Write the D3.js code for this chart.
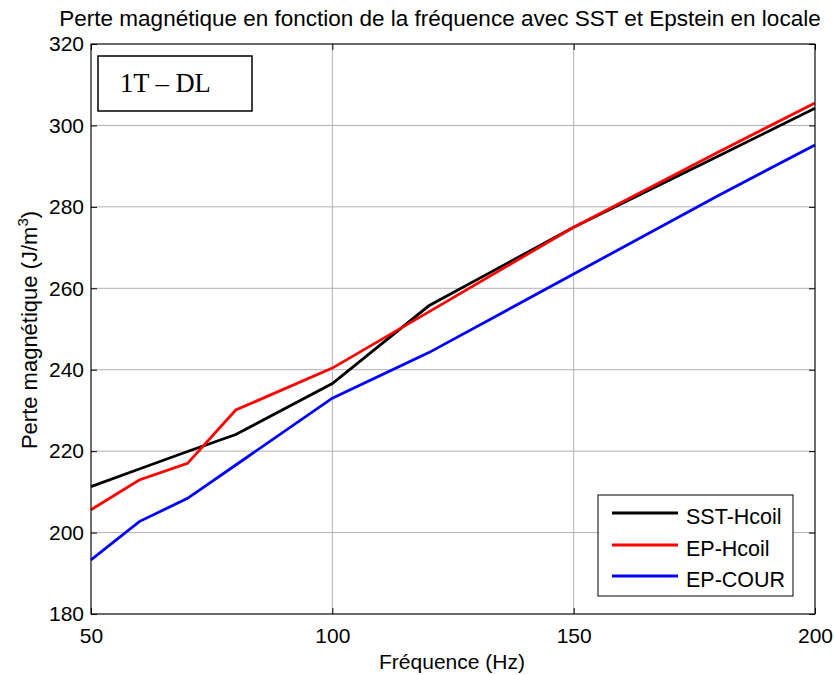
<!DOCTYPE html>
<html>
<head>
<meta charset="utf-8">
<script src="https://cdn.jsdelivr.net/npm/d3@7"></script>
<style>
body{margin:0;background:#fff;}
svg{display:block;font-family:"Liberation Sans",Arial,sans-serif;}
</style>
</head>
<body>
<svg id="c" width="834" height="675"></svg>
<script>
const freq = [50, 60, 70, 80, 100, 120, 150, 180, 200];
const sstHcoil = [211.3, 215.6, 219.9, 224.1, 236.6, 255.7, 275.0, 292.5, 304.2];
const epHcoil  = [205.6, 212.9, 217.0, 230.1, 240.4, 254.2, 275.0, 293.5, 305.5];
const epCour   = [193.3, 202.7, 208.4, 216.6, 233.0, 244.2, 263.5, 282.8, 295.2];
const seriesNames = ["SST-Hcoil", "EP-Hcoil", "EP-COUR"];
const seriesColors = ["#000000", "#ff0000", "#0000ff"];
const xTicks = [50, 100, 150, 200];
const yTicks = [180, 200, 220, 240, 260, 280, 300, 320];

const svg = d3.select("#c");
const L = 91, R = 815, T = 44, B = 614;
const x = d3.scaleLinear().domain([50, 200]).range([L, R]);
const y = d3.scaleLinear().domain([180, 320]).range([B, T]);

// grid
const g = svg.append("g");
g.selectAll(".vg").data(xTicks).enter().append("line")
  .attr("x1", d => x(d)).attr("x2", d => x(d)).attr("y1", T).attr("y2", B)
  .attr("stroke", "#b0b0b0").attr("stroke-width", 1);
g.selectAll(".hg").data(yTicks).enter().append("line")
  .attr("x1", L).attr("x2", R).attr("y1", d => y(d)).attr("y2", d => y(d))
  .attr("stroke", "#b0b0b0").attr("stroke-width", 1);

// lines
const data = [sstHcoil, epHcoil, epCour];
const line = d3.line().x((d, i) => x(freq[i])).y(d => y(d));
data.forEach((s, k) => {
  svg.append("path").datum(s).attr("d", line)
    .attr("fill", "none").attr("stroke", seriesColors[k])
    .attr("stroke-width", 2.8).attr("stroke-linejoin", "miter");
});

// axes box
svg.append("rect").attr("x", L).attr("y", T).attr("width", R - L).attr("height", B - T)
  .attr("fill", "none").attr("stroke", "#000").attr("stroke-width", 1);

const tl = 6;
const xAxisB = d3.axisBottom(x).tickValues(xTicks).tickSizeInner(-tl).tickSizeOuter(0).tickPadding(14);
const xAxisT = d3.axisTop(x).tickValues(xTicks).tickSizeInner(-tl).tickSizeOuter(0).tickFormat("");
const yAxisL = d3.axisLeft(y).tickValues(yTicks).tickSizeInner(-tl).tickSizeOuter(0).tickPadding(7);
const yAxisR = d3.axisRight(y).tickValues(yTicks).tickSizeInner(-tl).tickSizeOuter(0).tickFormat("");
function styleAxis(sel){
  sel.select(".domain").remove();
  sel.selectAll("text").attr("font-size", 21).attr("fill", "#000")
    .attr("font-family", "'Liberation Sans', Arial, sans-serif");
  sel.selectAll("line").attr("stroke", "#000");
}
svg.append("g").attr("transform", `translate(0,${B})`).call(xAxisB).call(styleAxis);
svg.append("g").attr("transform", `translate(0,${T})`).call(xAxisT).call(styleAxis);
svg.append("g").attr("transform", `translate(${L},0)`).call(yAxisL).call(styleAxis);
svg.append("g").attr("transform", `translate(${R},0)`).call(yAxisR).call(styleAxis);

// title
svg.append("text").attr("x", 440).attr("y", 26).attr("text-anchor", "middle")
  .attr("font-size", 22.5).text("Perte magnétique en fonction de la fréquence avec SST et Epstein en locale");
// x label
svg.append("text").attr("x", 452).attr("y", 669).attr("text-anchor", "middle")
  .attr("font-size", 21).text("Fréquence (Hz)");
// y label
const yl = svg.append("text").attr("transform", "translate(37,330) rotate(-90)")
  .attr("text-anchor", "middle").attr("font-size", 22);
yl.append("tspan").text("Perte magnétique (J/m");
yl.append("tspan").attr("font-size", 15).attr("dy", -9).text("3");
yl.append("tspan").attr("dy", 9).text(")");

// annotation box
svg.append("rect").attr("x", 98).attr("y", 56).attr("width", 154).attr("height", 55)
  .attr("fill", "#fff").attr("stroke", "#000").attr("stroke-width", 1.5);
svg.append("text").attr("x", 120).attr("y", 92).attr("font-family", "'Liberation Serif','Times New Roman',serif")
  .attr("font-size", 26.5).text("1T – DL");

// legend
svg.append("rect").attr("x", 598).attr("y", 495).attr("width", 195).attr("height", 101)
  .attr("fill", "#fff").attr("stroke", "#000").attr("stroke-width", 1);
const ly = [513, 545, 576];
seriesNames.forEach((n, k) => {
  svg.append("line").attr("x1", 612).attr("x2", 678).attr("y1", ly[k]).attr("y2", ly[k])
    .attr("stroke", seriesColors[k]).attr("stroke-width", 2.8);
  svg.append("text").attr("x", 686).attr("y", ly[k] + 11).attr("font-size", 21.5).text(n);
});
</script>
</body>
</html>
